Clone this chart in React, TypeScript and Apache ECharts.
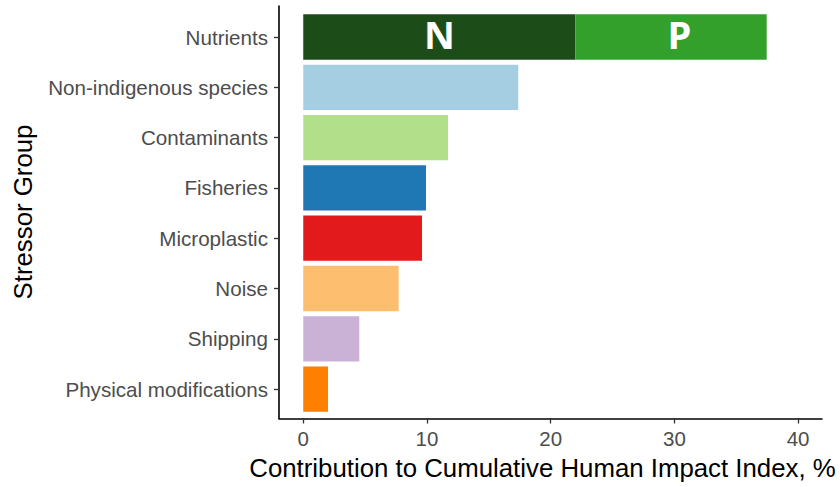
import React, { useEffect, useRef } from "react";
import * as echarts from "echarts";

const categories = [
  "Nutrients",
  "Non-indigenous species",
  "Contaminants",
  "Fisheries",
  "Microplastic",
  "Noise",
  "Shipping",
  "Physical modifications",
];
const nitrogen = [22.0, "-", "-", "-", "-", "-", "-", "-"];
const phosphorus = [15.46, "-", "-", "-", "-", "-", "-", "-"];
const otherValues = ["-", 17.38, 11.7, 9.92, 9.6, 7.71, 4.53, 2.0];
const otherColors = ["#000", "#a6cee3", "#b2df8a", "#1f78b4", "#e31a1c", "#fdbf6f", "#cab2d6", "#ff7f00"];
const npLabels = ["N", "P"];
const npLabelX = [11.0, 30.4];
const xTicks = [0, 10, 20, 30, 40];

const FONT = "'Liberation Sans', Arial, sans-serif";

export default function App() {
  const ref = useRef<HTMLDivElement>(null);
  useEffect(() => {
    if (!ref.current) return;
    const chart = echarts.init(ref.current, undefined, { renderer: "svg" });
    const xMin = -1.96;
    const xMax = 41.93;
    chart.setOption({
      animation: false,
      backgroundColor: "#ffffff",
      grid: [
        { left: 279, right: 18, top: 11.85, bottom: 72.75, containLabel: false },
        { left: 279, right: 18, top: 6, bottom: 68.5, containLabel: false },
      ],
      xAxis: [
        {
          gridIndex: 0,
          type: "value",
          min: xMin,
          max: xMax,
          show: false,
        },
        {
          gridIndex: 1,
          type: "value",
          min: xMin,
          max: xMax,
          axisLine: { show: true, onZero: false, lineStyle: { color: "#000", width: 1.6 } },
          axisTick: { show: true, length: 5, customValues: xTicks, lineStyle: { color: "#333", width: 1.3 } },
          axisLabel: {
            show: true,
            customValues: xTicks,
            margin: 9,
            color: "#4d4d4d",
            fontSize: 20.5,
            fontFamily: FONT,
          },
          splitLine: { show: false },
          name: "Contribution to Cumulative Human Impact Index, %",
          nameLocation: "middle",
          nameGap: 36,
          nameTextStyle: { color: "#000", fontSize: 25.8, fontFamily: FONT, padding: [0, 16, 0, 0] },
        },
      ],
      yAxis: [
        {
          gridIndex: 0,
          type: "category",
          data: categories,
          inverse: true,
          axisLine: { show: false, onZero: false },
          axisTick: { show: true, alignWithLabel: true, length: 5, lineStyle: { color: "#333", width: 1.3 } },
          axisLabel: { margin: 11, color: "#4d4d4d", fontSize: 20.6, fontFamily: FONT },
          splitLine: { show: false },
        },
        {
          gridIndex: 1,
          type: "value",
          min: 0,
          max: 1,
          axisLine: { show: true, onZero: false, lineStyle: { color: "#000", width: 1.6 } },
          axisTick: { show: false },
          axisLabel: { show: false },
          splitLine: { show: false },
        },
      ],
      graphic: [
        {
          type: "text",
          x: 23,
          y: 212,
          rotation: Math.PI / 2,
          style: {
            text: "Stressor Group",
            fill: "#000",
            font: `25.8px ${FONT}`,
            textAlign: "center",
            textVerticalAlign: "middle",
          },
        },
      ],
      series: [
        {
          name: "N",
          type: "bar",
          stack: "total",
          xAxisIndex: 0,
          yAxisIndex: 0,
          barWidth: "90%",
          data: nitrogen,
          itemStyle: { color: "#1c4c18" },
        },
        {
          name: "P",
          type: "bar",
          stack: "total",
          xAxisIndex: 0,
          yAxisIndex: 0,
          barWidth: "90%",
          data: phosphorus,
          itemStyle: { color: "#33a02c" },
        },
        {
          name: "Other",
          type: "bar",
          stack: "total",
          xAxisIndex: 0,
          yAxisIndex: 0,
          barWidth: "90%",
          data: otherValues.map((v, i) => ({ value: v, itemStyle: { color: otherColors[i] } })),
        },
        {
          name: "NP labels",
          type: "scatter",
          xAxisIndex: 0,
          yAxisIndex: 0,
          symbolSize: 1,
          silent: true,
          itemStyle: { opacity: 0 },
          data: npLabels.map((t, i) => ({ value: [npLabelX[i], categories[0]], name: t })),
          label: {
            show: true,
            position: "inside",
            formatter: (p: any) => p.name,
            color: "#ffffff",
            opacity: 1,
            fontSize: 38,
            fontWeight: "bold",
            fontFamily: "'Open Sans', 'DejaVu Sans', sans-serif",
            offset: [0, -3],
          },
        },
      ],
    });
    return () => chart.dispose();
  }, []);
  return (
    <div
      ref={ref}
      style={{ position: "fixed", left: 0, top: 0, width: 840, height: 487, background: "#fff" }}
    />
  );
}
